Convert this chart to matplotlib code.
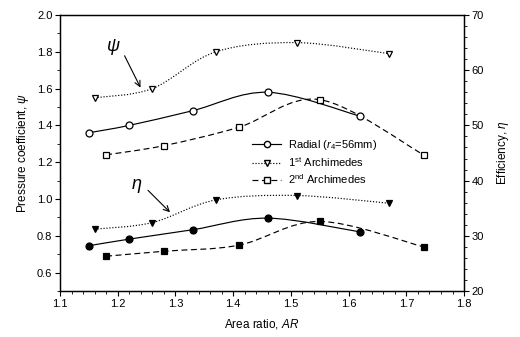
import numpy as np
import matplotlib
matplotlib.use("Agg")
import matplotlib.pyplot as plt
from matplotlib.path import Path
from matplotlib.patches import PathPatch
from matplotlib.lines import Line2D
from matplotlib.ticker import MultipleLocator

plt.rcParams['font.family'] = ['Liberation Sans', 'DejaVu Sans']
plt.rcParams['mathtext.fontset'] = 'custom'
plt.rcParams['mathtext.rm'] = 'Liberation Sans'
plt.rcParams['mathtext.it'] = 'Liberation Sans:italic'

# ---- data ----
ar_radial = [1.15, 1.22, 1.33, 1.46, 1.62]
psi_radial = [1.36, 1.40, 1.48, 1.58, 1.45]
eta_radial = [28.2, 29.4, 31.1, 33.2, 30.7]

ar_arch1 = [1.16, 1.26, 1.37, 1.51, 1.67]
psi_arch1 = [1.55, 1.60, 1.80, 1.85, 1.79]
eta_arch1 = [31.2, 32.4, 36.5, 37.3, 35.9]

ar_arch2 = [1.18, 1.28, 1.41, 1.55, 1.73]
psi_arch2 = [1.24, 1.29, 1.39, 1.54, 1.24]
eta_arch2 = [26.3, 27.2, 28.3, 32.6, 28.0]

labels = [r"Radial ($r_4$=56mm)", r"1$^{\rm st}$ Archimedes", r"2$^{\rm nd}$ Archimedes"]
x_ticks = [1.1, 1.2, 1.3, 1.4, 1.5, 1.6, 1.7, 1.8]
y_ticks = [0.6, 0.8, 1.0, 1.2, 1.4, 1.6, 1.8, 2.0]
y2_ticks = [20, 30, 40, 50, 60, 70]


def smooth_path(x, y):
    pts = np.column_stack([x, y]).astype(float)
    n = len(pts)
    verts = [pts[0]]
    codes = [Path.MOVETO]
    for i in range(n - 1):
        p0 = pts[i - 1] if i > 0 else pts[i]
        p1 = pts[i]
        p2 = pts[i + 1]
        p3 = pts[i + 2] if i + 2 < n else pts[i + 1]
        c1 = p1 + (p2 - p0) / 6.0
        c2 = p2 - (p3 - p1) / 6.0
        verts += [c1, c2, p2]
        codes += [Path.CURVE4] * 3
    return Path(verts, codes)


fig = plt.figure(figsize=(5.2, 3.37), dpi=100)
ax = fig.add_axes([0.1154, 0.1365, 0.7770, 0.8190])
ax2 = ax.twinx()

lw = 0.85
styles = [
    dict(ls='-', marker='o'),
    dict(ls=(0, (1, 1.5)), marker='v'),
    dict(ls=(0, (5, 3)), marker='s'),
]
msizes = [5.0, 5.0, 4.5]
series = [(ar_radial, psi_radial, eta_radial),
          (ar_arch1, psi_arch1, eta_arch1),
          (ar_arch2, psi_arch2, eta_arch2)]

for (xs, ps, es), st, ms in zip(series, styles, msizes):
    ax.add_patch(PathPatch(smooth_path(xs, ps), fill=False, lw=lw, ls=st['ls'], ec='black'))
    ax.plot(xs, ps, ls='none', marker=st['marker'], ms=ms, mfc='white', mec='black', mew=0.9, zorder=3)
    ax2.add_patch(PathPatch(smooth_path(xs, es), fill=False, lw=lw, ls=st['ls'], ec='black'))
    ax2.plot(xs, es, ls='none', marker=st['marker'], ms=ms, mfc='black', mec='black', mew=0.9, zorder=3)

ax.set_xlim(1.1, 1.8)
ax.set_ylim(0.5, 2.0)
ax2.set_ylim(20, 70)
ax.set_xticks(x_ticks)
ax.set_xticklabels([f"{v:.1f}" for v in x_ticks])
ax.set_yticks(y_ticks)
ax.set_yticklabels([f"{v:.1f}" for v in y_ticks])
ax2.set_yticks(y2_ticks)
ax.xaxis.set_minor_locator(MultipleLocator(0.02))
ax.yaxis.set_minor_locator(MultipleLocator(0.1))
ax2.yaxis.set_minor_locator(MultipleLocator(2))

for a in (ax, ax2):
    a.tick_params(which='major', direction='out', length=3.5, width=0.8, labelsize=8, pad=2)
    a.tick_params(which='minor', direction='out', length=2, width=0.6)
    for s in a.spines.values():
        s.set_linewidth(0.9)

ax.set_xlabel(r"Area ratio, $AR$", fontsize=8.5, labelpad=6)
ax.set_ylabel(r"Pressure coefficient, $\psi$", fontsize=8.5, labelpad=4)
ax2.set_ylabel(r"Efficiency, $\eta$", fontsize=8.5, labelpad=8)

# annotations
ax.annotate("", xy=(1.2416, 1.592), xytext=(1.2097, 1.792),
            arrowprops=dict(arrowstyle='->', lw=0.8, color='black'))
ax.text(1.192, 1.828, r"$\psi$", fontsize=13, ha='center', va='center')
ax.annotate("", xy=(1.294, 0.917), xytext=(1.249, 1.058),
            arrowprops=dict(arrowstyle='->', lw=0.8, color='black'))
ax.text(1.232, 1.072, r"$\eta$", fontsize=13, ha='center', va='center')

handles = [Line2D([], [], color='black', lw=lw, ls=st['ls'], marker=st['marker'],
                  ms=ms - 0.5, mfc='white', mec='black') for st, ms in zip(styles, msizes)]
ax.legend(handles, labels, loc='upper left', bbox_to_anchor=(0.465, 0.572), frameon=False,
          fontsize=8, handlelength=2.6, handletextpad=0.6, labelspacing=0.3, borderaxespad=0)

fig.savefig("out.png", dpi=100)
